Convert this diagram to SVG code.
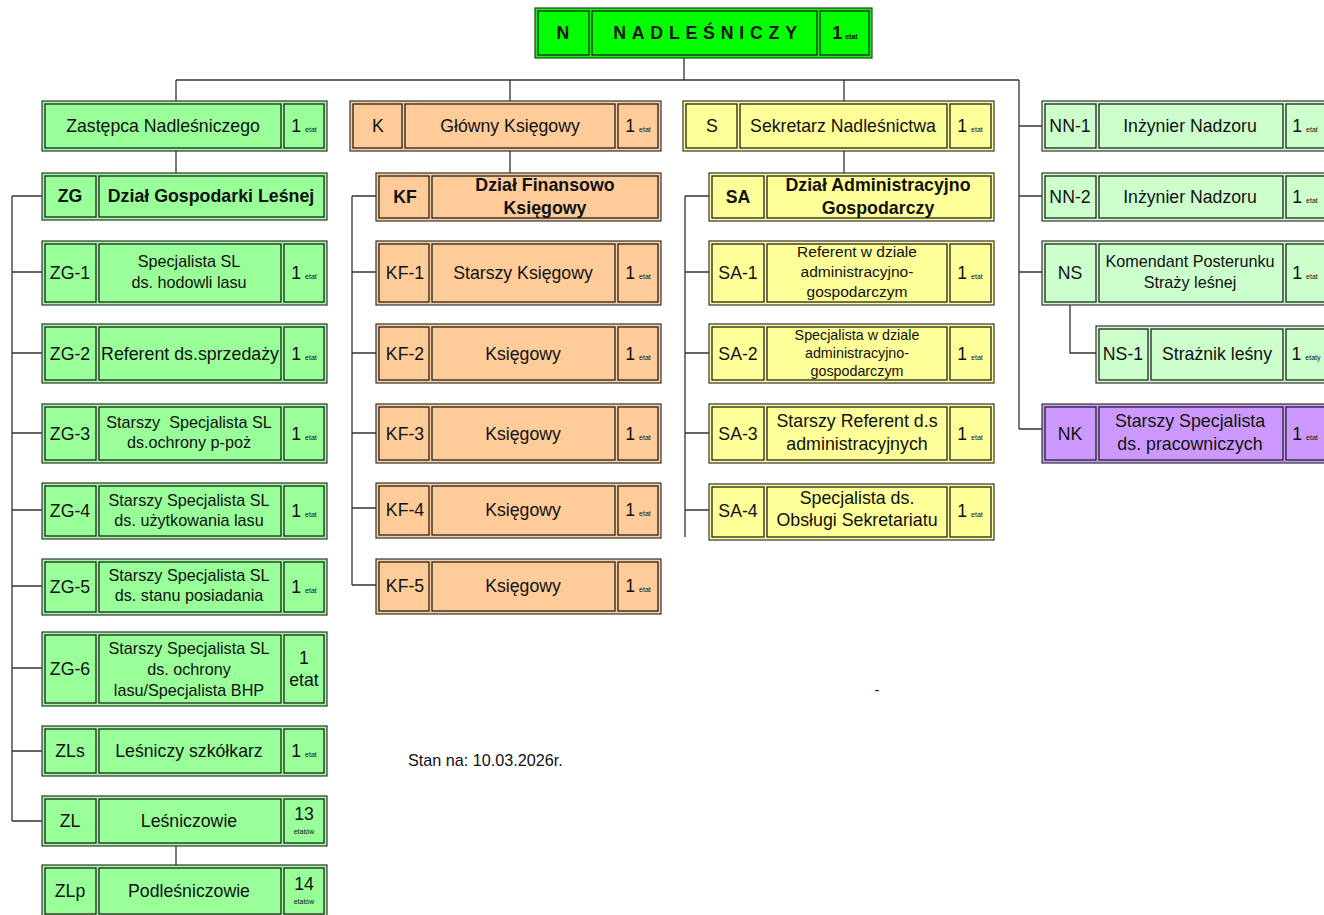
<svg xmlns="http://www.w3.org/2000/svg" width="1324" height="915" viewBox="0 0 1324 915">
<style>
text{font-family:"Liberation Sans",Arial,sans-serif;fill:#111;text-anchor:middle}
.o{stroke:#333;stroke-width:1.2}
.c{fill:none;stroke:#222;stroke-width:1.3}
.g{fill:#99FF99}.lg{fill:#CCFFCC}.or{fill:#FFCC99}.y{fill:#FFFF99}.p{fill:#CC99FF}.n{fill:#00FF00}
.t17{font-size:17.7px}.t16{font-size:17.8px}.t15{font-size:16.2px}.t14{font-size:15.5px}.t13{font-size:14.3px}
.b{font-weight:bold}
.s{font-size:7px}
.ln{fill:none;stroke:#333;stroke-width:1.3}
</style>
<rect width="1324" height="915" fill="#fff"/>
<g id="connectors" class="ln">
<path d="M684 58V80M176 80H1019M176 80V101M510 80V101M844 80V101M1019 80V429"/>
<path d="M176 151V173M510 151V173M844 151V173M176 846V865"/>
<path d="M12 196V821M12 196H42M12 272H42M12 353H42M12 433H42M12 510H42M12 586H42M12 668H42M12 751H42M12 821H42"/>
<path d="M352 196V585M352 196H376M352 272H376M352 353H376M352 433H376M352 508H376M352 585H376"/>
<path d="M685 196V537M685 196H709M685 272H709M685 353H709M685 433H709M685 510H709"/>
<path d="M1019 126H1042M1019 196H1042M1019 272H1042M1019 429H1042M1070 305V353H1097"/>
</g>
<g id="N">
<rect class="o n" x="535" y="8" width="337" height="50"/>
<rect class="c" x="538" y="11" width="51" height="44"/><rect class="c" x="592" y="11" width="225" height="44"/><rect class="c" x="820" y="11" width="49" height="44"/>
<text class="t17 b" x="563" y="39">N</text>
<text class="t17 b" x="708" y="39" letter-spacing="5.8">NADLEŚNICZY</text>
<text class="t17 b" x="845" y="39">1<tspan class="s" dx="3">etat</tspan></text>
</g>
<g id="Z">
<rect class="o g" x="42" y="101" width="285" height="50"/>
<rect class="c" x="45" y="104" width="236" height="44"/><rect class="c" x="284" y="104" width="40" height="44"/>
<text class="t17" x="163" y="132">Zastępca Nadleśniczego</text>
<text class="t17" x="304" y="132">1<tspan class="s" dx="4">etat</tspan></text>
</g>
<g id="K">
<rect class="o or" x="350" y="101" width="311" height="50"/>
<rect class="c" x="353" y="104" width="49" height="44"/><rect class="c" x="405" y="104" width="210" height="44"/><rect class="c" x="618" y="104" width="40" height="44"/>
<text class="t17" x="378" y="132">K</text>
<text class="t17" x="510" y="132">Główny Księgowy</text>
<text class="t17" x="638" y="132">1<tspan class="s" dx="4">etat</tspan></text>
</g>
<g id="S">
<rect class="o y" x="683" y="101" width="311" height="50"/>
<rect class="c" x="686" y="104" width="51" height="44"/><rect class="c" x="740" y="104" width="207" height="44"/><rect class="c" x="950" y="104" width="41" height="44"/>
<text class="t17" x="712" y="132">S</text>
<text class="t17" x="843" y="132">Sekretarz Nadleśnictwa</text>
<text class="t17" x="970" y="132">1<tspan class="s" dx="4">etat</tspan></text>
</g>
<g id="ZG">
<rect class="o g" x="42" y="173" width="285" height="47"/>
<rect class="c" x="45" y="176" width="51" height="41"/><rect class="c" x="99" y="176" width="225" height="41"/>
<text class="t17 b" x="70" y="202">ZG</text>
<text class="t16 b" x="211" y="202">Dział Gospodarki Leśnej</text>
</g>
<g id="KF">
<rect class="o or" x="376" y="173" width="285" height="48"/>
<rect class="c" x="379" y="176" width="50" height="42"/><rect class="c" x="432" y="176" width="226" height="42"/>
<text class="t17 b" x="405" y="203">KF</text>
<text class="t16 b" x="545" y="191">Dział Finansowo</text>
<text class="t16 b" x="545" y="214">Księgowy</text>
</g>
<g id="SA">
<rect class="o y" x="709" y="173" width="285" height="48"/>
<rect class="c" x="712" y="176" width="52" height="42"/><rect class="c" x="767" y="176" width="224" height="42"/>
<text class="t17 b" x="738" y="203">SA</text>
<text class="t16 b" x="878" y="191">Dział Administracyjno</text>
<text class="t16 b" x="878" y="214">Gospodarczy</text>
</g>
<g id="ZG-1">
<rect class="o g" x="42" y="241" width="285" height="64"/>
<rect class="c" x="45" y="244" width="51" height="58"/><rect class="c" x="99" y="244" width="182" height="58"/><rect class="c" x="284" y="244" width="40" height="58"/>
<text class="t17" x="70" y="279">ZG-1</text>
<text class="t15" x="189" y="267">Specjalista SL</text>
<text class="t15" x="189" y="288">ds. hodowli lasu</text>
<text class="t17" x="304" y="279">1<tspan class="s" dx="4">etat</tspan></text>
</g>
<g id="ZG-2">
<rect class="o g" x="42" y="324" width="285" height="59"/>
<rect class="c" x="45" y="327" width="51" height="53"/><rect class="c" x="99" y="327" width="182" height="53"/><rect class="c" x="284" y="327" width="40" height="53"/>
<text class="t17" x="70" y="360">ZG-2</text>
<text class="t16" x="190" y="360">Referent ds.sprzedaży</text>
<text class="t17" x="304" y="360">1<tspan class="s" dx="4">etat</tspan></text>
</g>
<g id="ZG-3">
<rect class="o g" x="42" y="404" width="285" height="59"/>
<rect class="c" x="45" y="407" width="51" height="53"/><rect class="c" x="99" y="407" width="182" height="53"/><rect class="c" x="284" y="407" width="40" height="53"/>
<text class="t17" x="70" y="440">ZG-3</text>
<text class="t15" x="189" y="428" xml:space="preserve">Starszy  Specjalista SL</text>
<text class="t15" x="189" y="448">ds.ochrony p-poż</text>
<text class="t17" x="304" y="440">1<tspan class="s" dx="4">etat</tspan></text>
</g>
<g id="ZG-4">
<rect class="o g" x="42" y="483" width="285" height="56"/>
<rect class="c" x="45" y="486" width="51" height="50"/><rect class="c" x="99" y="486" width="182" height="50"/><rect class="c" x="284" y="486" width="40" height="50"/>
<text class="t17" x="70" y="517">ZG-4</text>
<text class="t15" x="189" y="506">Starszy Specjalista SL</text>
<text class="t15" x="189" y="526">ds. użytkowania lasu</text>
<text class="t17" x="304" y="517">1<tspan class="s" dx="4">etat</tspan></text>
</g>
<g id="ZG-5">
<rect class="o g" x="42" y="559" width="285" height="56"/>
<rect class="c" x="45" y="562" width="51" height="50"/><rect class="c" x="99" y="562" width="182" height="50"/><rect class="c" x="284" y="562" width="40" height="50"/>
<text class="t17" x="70" y="593">ZG-5</text>
<text class="t15" x="189" y="581">Starszy Specjalista SL</text>
<text class="t15" x="189" y="601">ds. stanu posiadania</text>
<text class="t17" x="304" y="593">1<tspan class="s" dx="4">etat</tspan></text>
</g>
<g id="ZG-6">
<rect class="o g" x="42" y="632" width="285" height="74"/>
<rect class="c" x="45" y="635" width="51" height="68"/><rect class="c" x="99" y="635" width="182" height="68"/><rect class="c" x="284" y="635" width="40" height="68"/>
<text class="t17" x="70" y="675">ZG-6</text>
<text class="t15" x="189" y="654">Starszy Specjalista SL</text>
<text class="t15" x="189" y="675">ds. ochrony</text>
<text class="t15" x="189" y="696">lasu/Specjalista BHP</text>
<text class="t17" x="304" y="664">1</text>
<text class="t17" x="304" y="686">etat</text>
</g>
<g id="ZLs">
<rect class="o g" x="42" y="726" width="285" height="50"/>
<rect class="c" x="45" y="729" width="51" height="44"/><rect class="c" x="99" y="729" width="182" height="44"/><rect class="c" x="284" y="729" width="40" height="44"/>
<text class="t17" x="70" y="757">ZLs</text>
<text class="t17" x="189" y="757">Leśniczy szkółkarz</text>
<text class="t17" x="304" y="757">1<tspan class="s" dx="4">etat</tspan></text>
</g>
<g id="ZL">
<rect class="o g" x="42" y="796" width="285" height="50"/>
<rect class="c" x="45" y="799" width="51" height="44"/><rect class="c" x="99" y="799" width="182" height="44"/><rect class="c" x="284" y="799" width="40" height="44"/>
<text class="t17" x="70" y="827">ZL</text>
<text class="t17" x="189" y="827">Leśniczowie</text>
<text class="t17" x="304" y="820">13</text>
<text class="s" x="304" y="834">etatów</text>
</g>
<g id="ZLp">
<rect class="o g" x="42" y="865" width="285" height="52"/>
<rect class="c" x="45" y="868" width="51" height="46"/><rect class="c" x="99" y="868" width="182" height="46"/><rect class="c" x="284" y="868" width="40" height="46"/>
<text class="t17" x="70" y="897">ZLp</text>
<text class="t17" x="189" y="897">Podleśniczowie</text>
<text class="t17" x="304" y="890">14</text>
<text class="s" x="304" y="904">etatów</text>
</g>
<g id="KF-1">
<rect class="o or" x="376" y="241" width="285" height="64"/>
<rect class="c" x="379" y="244" width="50" height="58"/><rect class="c" x="432" y="244" width="183" height="58"/><rect class="c" x="618" y="244" width="40" height="58"/>
<text class="t17" x="405" y="279">KF-1</text>
<text class="t17" x="523" y="279">Starszy Księgowy</text>
<text class="t17" x="638" y="279">1<tspan class="s" dx="4">etat</tspan></text>
</g>
<g id="KF-2">
<rect class="o or" x="376" y="324" width="285" height="59"/>
<rect class="c" x="379" y="327" width="50" height="53"/><rect class="c" x="432" y="327" width="183" height="53"/><rect class="c" x="618" y="327" width="40" height="53"/>
<text class="t17" x="405" y="360">KF-2</text>
<text class="t17" x="523" y="360">Księgowy</text>
<text class="t17" x="638" y="360">1<tspan class="s" dx="4">etat</tspan></text>
</g>
<g id="KF-3">
<rect class="o or" x="376" y="404" width="285" height="59"/>
<rect class="c" x="379" y="407" width="50" height="53"/><rect class="c" x="432" y="407" width="183" height="53"/><rect class="c" x="618" y="407" width="40" height="53"/>
<text class="t17" x="405" y="440">KF-3</text>
<text class="t17" x="523" y="440">Księgowy</text>
<text class="t17" x="638" y="440">1<tspan class="s" dx="4">etat</tspan></text>
</g>
<g id="KF-4">
<rect class="o or" x="376" y="483" width="285" height="55"/>
<rect class="c" x="379" y="486" width="50" height="49"/><rect class="c" x="432" y="486" width="183" height="49"/><rect class="c" x="618" y="486" width="40" height="49"/>
<text class="t17" x="405" y="516">KF-4</text>
<text class="t17" x="523" y="516">Księgowy</text>
<text class="t17" x="638" y="516">1<tspan class="s" dx="4">etat</tspan></text>
</g>
<g id="KF-5">
<rect class="o or" x="376" y="559" width="285" height="55"/>
<rect class="c" x="379" y="562" width="50" height="49"/><rect class="c" x="432" y="562" width="183" height="49"/><rect class="c" x="618" y="562" width="40" height="49"/>
<text class="t17" x="405" y="592">KF-5</text>
<text class="t17" x="523" y="592">Księgowy</text>
<text class="t17" x="638" y="592">1<tspan class="s" dx="4">etat</tspan></text>
</g>
<g id="SA-1">
<rect class="o y" x="709" y="241" width="285" height="64"/>
<rect class="c" x="712" y="244" width="52" height="58"/><rect class="c" x="767" y="244" width="180" height="58"/><rect class="c" x="950" y="244" width="41" height="58"/>
<text class="t17" x="738" y="279">SA-1</text>
<text class="t14" x="857" y="257">Referent w dziale</text>
<text class="t14" x="857" y="277">administracyjno-</text>
<text class="t14" x="857" y="297">gospodarczym</text>
<text class="t17" x="970" y="279">1<tspan class="s" dx="4">etat</tspan></text>
</g>
<g id="SA-2">
<rect class="o y" x="709" y="324" width="285" height="59"/>
<rect class="c" x="712" y="327" width="52" height="53"/><rect class="c" x="767" y="327" width="180" height="53"/><rect class="c" x="950" y="327" width="41" height="53"/>
<text class="t17" x="738" y="360">SA-2</text>
<text class="t13" x="857" y="340">Specjalista w dziale</text>
<text class="t13" x="857" y="358">administracyjno-</text>
<text class="t13" x="857" y="376">gospodarczym</text>
<text class="t17" x="970" y="360">1<tspan class="s" dx="4">etat</tspan></text>
</g>
<g id="SA-3">
<rect class="o y" x="709" y="404" width="285" height="59"/>
<rect class="c" x="712" y="407" width="52" height="53"/><rect class="c" x="767" y="407" width="180" height="53"/><rect class="c" x="950" y="407" width="41" height="53"/>
<text class="t17" x="738" y="440">SA-3</text>
<text class="t16" x="857" y="427">Starszy Referent d.s</text>
<text class="t16" x="857" y="450">administracyjnych</text>
<text class="t17" x="970" y="440">1<tspan class="s" dx="4">etat</tspan></text>
</g>
<g id="SA-4">
<rect class="o y" x="709" y="484" width="285" height="56"/>
<rect class="c" x="712" y="487" width="52" height="50"/><rect class="c" x="767" y="487" width="180" height="50"/><rect class="c" x="950" y="487" width="41" height="50"/>
<text class="t17" x="738" y="517">SA-4</text>
<text class="t16" x="857" y="504">Specjalista ds.</text>
<text class="t16" x="857" y="526">Obsługi Sekretariatu</text>
<text class="t17" x="970" y="517">1<tspan class="s" dx="4">etat</tspan></text>
</g>
<g id="NN-1">
<rect class="o lg" x="1042" y="101" width="290" height="50"/>
<rect class="c" x="1045" y="104" width="51" height="44"/><rect class="c" x="1099" y="104" width="184" height="44"/><rect class="c" x="1286" y="104" width="45" height="44"/>
<text class="t17" x="1070" y="132">NN-1</text>
<text class="t17" x="1190" y="132">Inżynier Nadzoru</text>
<text class="t17" x="1305" y="132">1<tspan class="s" dx="4">etat</tspan></text>
</g>
<g id="NN-2">
<rect class="o lg" x="1042" y="173" width="290" height="48"/>
<rect class="c" x="1045" y="176" width="51" height="42"/><rect class="c" x="1099" y="176" width="184" height="42"/><rect class="c" x="1286" y="176" width="45" height="42"/>
<text class="t17" x="1070" y="203">NN-2</text>
<text class="t17" x="1190" y="203">Inżynier Nadzoru</text>
<text class="t17" x="1305" y="203">1<tspan class="s" dx="4">etat</tspan></text>
</g>
<g id="NS">
<rect class="o lg" x="1042" y="241" width="290" height="64"/>
<rect class="c" x="1045" y="244" width="51" height="58"/><rect class="c" x="1099" y="244" width="184" height="58"/><rect class="c" x="1286" y="244" width="45" height="58"/>
<text class="t17" x="1070" y="279">NS</text>
<text class="t15" x="1190" y="267">Komendant Posterunku</text>
<text class="t15" x="1190" y="288">Straży leśnej</text>
<text class="t17" x="1305" y="279">1<tspan class="s" dx="4">etat</tspan></text>
</g>
<g id="NS-1">
<rect class="o lg" x="1096" y="326" width="240" height="57"/>
<rect class="c" x="1099" y="329" width="49" height="51"/><rect class="c" x="1151" y="329" width="132" height="51"/><rect class="c" x="1286" y="329" width="45" height="51"/>
<text class="t17" x="1123" y="360">NS-1</text>
<text class="t17" x="1217" y="360">Strażnik leśny</text>
<text class="t17" x="1306" y="360">1<tspan class="s" dx="4">etaty</tspan></text>
</g>
<g id="NK">
<rect class="o p" x="1042" y="404" width="290" height="59"/>
<rect class="c" x="1045" y="407" width="51" height="53"/><rect class="c" x="1099" y="407" width="184" height="53"/><rect class="c" x="1286" y="407" width="45" height="53"/>
<text class="t17" x="1070" y="440">NK</text>
<text class="t16" x="1190" y="427">Starszy Specjalista</text>
<text class="t16" x="1190" y="450">ds. pracowniczych</text>
<text class="t17" x="1305" y="440">1<tspan class="s" dx="4">etat</tspan></text>
</g>
<text class="t15" x="408" y="766" style="text-anchor:start">Stan na: 10.03.2026r.</text>
<text class="t13" x="877" y="695">-</text>
</svg>
